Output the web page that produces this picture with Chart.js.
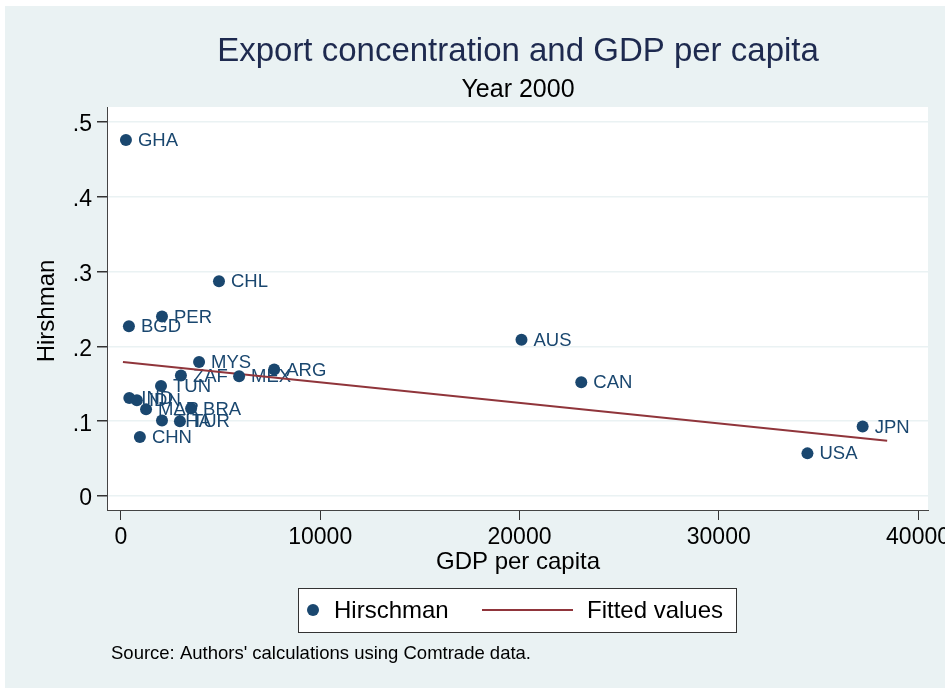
<!DOCTYPE html>
<html>
<head>
<meta charset="utf-8">
<script src="https://cdn.jsdelivr.net/npm/chart.js@4"></script>
<style>
  html, body { margin: 0; padding: 0; background: #fff; }
  #chart { display: block; }
</style>
</head>
<body>
<canvas id="chart" width="945" height="688"></canvas>
<script>
// Export concentration (Hirschman index) vs GDP per capita, year 2000
const countries = ['GHA', 'BGD', 'PER', 'CHL', 'AUS', 'MYS', 'ARG', 'ZAF', 'MEX', 'CAN',
                   'TUN', 'IND', 'IDN', 'MAR', 'BRA', 'THA', 'TUR', 'CHN', 'JPN', 'USA'];
const gdpPerCapita = [250, 400, 2060, 4920, 20100, 3920, 7690, 3010, 5930, 23100,
                      2010, 420, 800, 1260, 3520, 2060, 2960, 950, 37220, 34450];
const hirschman = [0.476, 0.227, 0.240, 0.287, 0.209, 0.179, 0.169, 0.161, 0.160, 0.152,
                   0.147, 0.131, 0.128, 0.116, 0.117, 0.101, 0.100, 0.079, 0.093, 0.057];

// fitted line end points
const fitX = [100, 38450];
const fitY = [0.179, 0.074];

const xTicks = [0, 10000, 20000, 30000, 40000];
const yTicks = [0, 0.1, 0.2, 0.3, 0.4, 0.5];

const FONT = '"Liberation Sans", Arial, Helvetica, sans-serif';
const NAVY = '#1a476f';
const MAROON = '#90353b';
const BG = '#eaf2f3';

const backdrop = {
  id: 'backdrop',
  beforeDraw(chart) {
    const ctx = chart.ctx;
    const a = chart.chartArea;
    ctx.save();
    ctx.fillStyle = '#fff';
    ctx.fillRect(0, 0, chart.width, chart.height);
    ctx.fillStyle = BG;
    ctx.fillRect(5, 6, chart.width - 5, chart.height - 6);
    ctx.fillStyle = '#fff';
    ctx.fillRect(a.left, a.top, a.right - a.left, a.bottom - a.top);
    ctx.restore();
  }
};

// country labels sit under the markers and the fitted line
const pointLabels = {
  id: 'pointLabels',
  beforeDatasetsDraw(chart) {
    const ctx = chart.ctx;
    const meta = chart.getDatasetMeta(0);
    ctx.save();
    ctx.font = '18.5px ' + FONT;
    ctx.fillStyle = NAVY;
    ctx.textAlign = 'left';
    ctx.textBaseline = 'middle';
    meta.data.forEach((pt, i) => {
      ctx.fillText(countries[i], pt.x + 12, pt.y + 1);
    });
    ctx.restore();
  }
};

const decorations = {
  id: 'decorations',
  afterDraw(chart) {
    const ctx = chart.ctx;
    ctx.save();
    ctx.textAlign = 'center';
    ctx.textBaseline = 'alphabetic';

    ctx.fillStyle = '#1e2a4f';
    ctx.font = '33px ' + FONT;
    ctx.fillText('Export concentration and GDP per capita', 518, 61);

    ctx.fillStyle = '#000';
    ctx.font = '25px ' + FONT;
    ctx.fillText('Year 2000', 518, 97);

    // axis titles
    ctx.font = '24px ' + FONT;
    ctx.textBaseline = 'middle';
    ctx.fillText('GDP per capita', 518, 562);
    ctx.save();
    ctx.translate(47, 311);
    ctx.rotate(-Math.PI / 2);
    ctx.fillText('Hirshman', 0, 0);
    ctx.restore();

    // legend box
    ctx.fillStyle = '#fff';
    ctx.fillRect(298, 588, 438, 44);
    ctx.strokeStyle = '#333';
    ctx.lineWidth = 1;
    ctx.strokeRect(298.5, 588.5, 438, 44);

    ctx.fillStyle = NAVY;
    ctx.beginPath();
    ctx.arc(313, 610, 6, 0, Math.PI * 2);
    ctx.fill();

    ctx.strokeStyle = MAROON;
    ctx.lineWidth = 2;
    ctx.beginPath();
    ctx.moveTo(482, 610);
    ctx.lineTo(573, 610);
    ctx.stroke();

    ctx.fillStyle = '#000';
    ctx.textAlign = 'left';
    ctx.font = '24px ' + FONT;
    ctx.fillText('Hirschman', 334, 611);
    ctx.fillText('Fitted values', 587, 611);

    // source note
    ctx.font = '18.5px ' + FONT;
    ctx.fillText("Source: Authors' calculations using Comtrade data.", 111, 654);
    ctx.restore();
  }
};

new Chart(document.getElementById('chart'), {
  type: 'scatter',
  data: {
    datasets: [
      {
        label: 'Hirschman',
        data: gdpPerCapita.map((g, i) => ({ x: g, y: hirschman[i] })),
        backgroundColor: NAVY,
        borderWidth: 0,
        pointRadius: 6,
        pointHoverRadius: 6
      },
      {
        label: 'Fitted values',
        data: fitX.map((x, i) => ({ x: x, y: fitY[i] })),
        showLine: true,
        borderColor: MAROON,
        borderWidth: 2,
        pointRadius: 0
      }
    ]
  },
  options: {
    responsive: false,
    animation: false,
    devicePixelRatio: 1,
    layout: { padding: { top: 107, right: 17, bottom: 0, left: 0 } },
    plugins: {
      legend: { display: false },
      title: { display: false },
      tooltip: { enabled: false }
    },
    scales: {
      x: {
        type: 'linear',
        min: -700,
        max: 40500,
        afterBuildTicks: s => { s.ticks = xTicks.map(v => ({ value: v })); },
        afterFit: s => { s.height = 178; s.paddingLeft = 0; s.paddingRight = 0; },
        ticks: {
          autoSkip: false,
          maxRotation: 0,
          padding: 4,
          color: '#000',
          font: { family: FONT, size: 23 },
          callback: v => String(v)
        },
        grid: { drawOnChartArea: false, drawTicks: true, tickLength: 10, tickColor: '#333' },
        border: { display: true, color: '#444', width: 1 }
      },
      y: {
        type: 'linear',
        min: -0.0187,
        max: 0.52,
        afterBuildTicks: s => { s.ticks = yTicks.map(v => ({ value: v })); },
        afterFit: s => { s.width = 107; s.paddingTop = 0; s.paddingBottom = 0; },
        ticks: {
          autoSkip: false,
          padding: 5,
          labelOffset: 3,
          color: '#000',
          font: { family: FONT, size: 23 },
          callback: v => (v === 0 ? '0' : String(Math.round(v * 10) / 10).replace('0.', '.'))
        },
        grid: { color: BG, lineWidth: 1.5, tickLength: 10, tickColor: '#333' },
        border: { display: true, color: '#444', width: 1 }
      }
    }
  },
  plugins: [backdrop, pointLabels, decorations]
});
</script>
</body>
</html>
